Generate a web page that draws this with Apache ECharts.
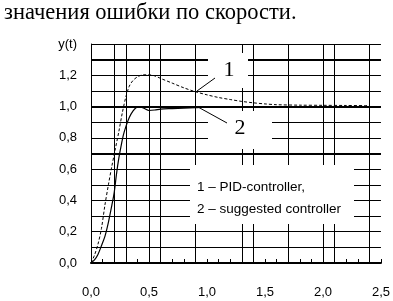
<!DOCTYPE html>
<html><head><meta charset="utf-8">
<script src="https://cdn.jsdelivr.net/npm/echarts@6/dist/echarts.min.js"></script>
<style>html,body{margin:0;padding:0;background:#fff}#c{width:393px;height:301px}</style>
</head><body><div id="c"></div>
<script>
// Curve 1: PID-controller (dashed)
const T1 = [0,0.03,0.06,0.09,0.12,0.15,0.18,0.21,0.24,0.27,0.30,0.33,0.36,0.40,0.45,0.50,0.55,0.60,0.70,0.80,0.90,1.00,1.10,1.20,1.30,1.40,1.50,1.60,1.80,2.00,2.20,2.40];
const V1 = [0,0.05,0.12,0.22,0.37,0.50,0.62,0.73,0.84,0.96,1.06,1.13,1.165,1.19,1.203,1.203,1.196,1.18,1.15,1.12,1.095,1.075,1.058,1.045,1.033,1.024,1.017,1.012,1.009,1.008,1.007,1.006];
// Curve 2: suggested controller (solid)
const T2 = [0,0.03,0.06,0.09,0.12,0.15,0.18,0.20,0.22,0.24,0.26,0.28,0.30,0.33,0.36,0.40,0.43,0.46,0.50,0.55,0.60,0.70,0.80,0.90,1.00,1.20,1.50,2.00,2.40];
const V2 = [0,0.02,0.055,0.11,0.17,0.26,0.37,0.45,0.57,0.67,0.75,0.82,0.87,0.93,0.97,0.997,0.997,0.988,0.975,0.978,0.984,0.987,0.99,0.993,0.997,1.0,1.0,1.0,1.0];
// axis ticks
const X_TICK_VALUES = [0,0.5,1.0,1.5,2.0,2.5];
const X_TICK_TEXT = ['0,0','0,5','1,0','1,5','2,0','2,5'];
const Y_TICK_VALUES = [0,0.2,0.4,0.6,0.8,1.0,1.2,1.4];
const Y_TICK_TEXT = ['0,0','0,2','0,4','0,6','0,8','1,0','1,2','y(t)'];
// extra grid lines seen in the figure
const V_GRID = [0.2,0.3,0.5,0.6,0.9,1.3,1.4,1.7,2.0,2.1,2.4];
const H_THICK = [0.7,1.0,1.3];
const TITLE = 'значения ошибки по скорости.';
const LEGEND_LINES = ['1 – PID-controller,','2 – suggested controller'];

function lab(vals, texts, v){
  for (let i=0;i<vals.length;i++) if (Math.abs(vals[i]-v)<1e-6) return texts[i];
  return '';
}
const zip=(a,b)=>a.map((x,i)=>[x,b[i]]);
const chart = echarts.init(document.getElementById('c'), null, {renderer:'canvas'});
const sans = 'Liberation Sans';
const serif = 'Liberation Serif';
chart.setOption({
  animation:false,
  backgroundColor:'#fff',
  title:{text:TITLE,left:-1,top:-3,textStyle:{fontFamily:serif,fontSize:22.5,fontWeight:'normal',color:'#000'}},
  grid:{left:91,right:10,top:44,bottom:38},
  xAxis:{type:'value',min:0,max:2.5,interval:0.5,
    axisLine:{show:true,lineStyle:{color:'#000',width:2}},
    axisTick:{show:true,inside:true,length:4,lineStyle:{color:'#000'}},
    minorTick:{show:true,splitNumber:5,length:4,lineStyle:{color:'#000'}},
    splitLine:{show:false},
    axisLabel:{margin:23,color:'#000',fontFamily:sans,fontSize:13,formatter:v=>lab(X_TICK_VALUES,X_TICK_TEXT,v)}
  },
  yAxis:{type:'value',min:0,max:1.4,interval:0.1,
    axisLine:{show:true,lineStyle:{color:'#000',width:1}},
    axisTick:{show:false},
    splitLine:{show:true,lineStyle:{color:'#000',width:1}},
    axisLabel:{margin:14,color:'#000',fontFamily:sans,fontSize:13,showMaxLabel:true,formatter:v=>lab(Y_TICK_VALUES,Y_TICK_TEXT,v)}
  },
  series:[
    {type:'line',data:[],z:1,silent:true,
     markLine:{silent:true,symbol:'none',label:{show:false},animation:false,
       data:[].concat(
         V_GRID.map(x=>({xAxis:x,lineStyle:{color:'#000',width:1,type:'solid'}})),
         H_THICK.map(y=>({yAxis:y,lineStyle:{color:'#000',width:2,type:'solid'}}))
       )}},
    {name:'1',type:'line',data:zip(T1,V1),symbol:'none',smooth:0.3,zlevel:2,
     lineStyle:{color:'#000',width:1,type:[3,2]}},
    {name:'2',type:'line',data:zip(T2,V2),symbol:'none',smooth:0.3,zlevel:2,
     lineStyle:{color:'#000',width:1.2}}
  ],
  graphic:[
    {type:'rect',zlevel:1,shape:{x:208,y:53,width:40,height:35},style:{fill:'#fff'}},
    {type:'rect',zlevel:1,shape:{x:208,y:111,width:64,height:38},style:{fill:'#fff'}},
    {type:'rect',zlevel:1,shape:{x:190,y:165,width:164,height:59},style:{fill:'#fff'}},
    {type:'line',zlevel:3,shape:{x1:197,y1:91,x2:215,y2:78},style:{stroke:'#000',lineWidth:1}},
    {type:'line',zlevel:3,shape:{x1:198,y1:107,x2:227,y2:123},style:{stroke:'#000',lineWidth:1}},
    {type:'text',zlevel:3,x:229,y:70,style:{text:'1',font:'22px "Liberation Serif"',fill:'#000',align:'center',verticalAlign:'middle'}},
    {type:'text',zlevel:3,x:240,y:128,style:{text:'2',font:'22px "Liberation Serif"',fill:'#000',align:'center',verticalAlign:'middle'}},
    {type:'text',zlevel:3,x:197,y:187,style:{text:LEGEND_LINES[0],font:'13.5px "Liberation Sans"',fill:'#000',align:'left',verticalAlign:'middle'}},
    {type:'text',zlevel:3,x:197,y:209,style:{text:LEGEND_LINES[1],font:'13.5px "Liberation Sans"',fill:'#000',align:'left',verticalAlign:'middle'}}
  ]
});
</script></body></html>
